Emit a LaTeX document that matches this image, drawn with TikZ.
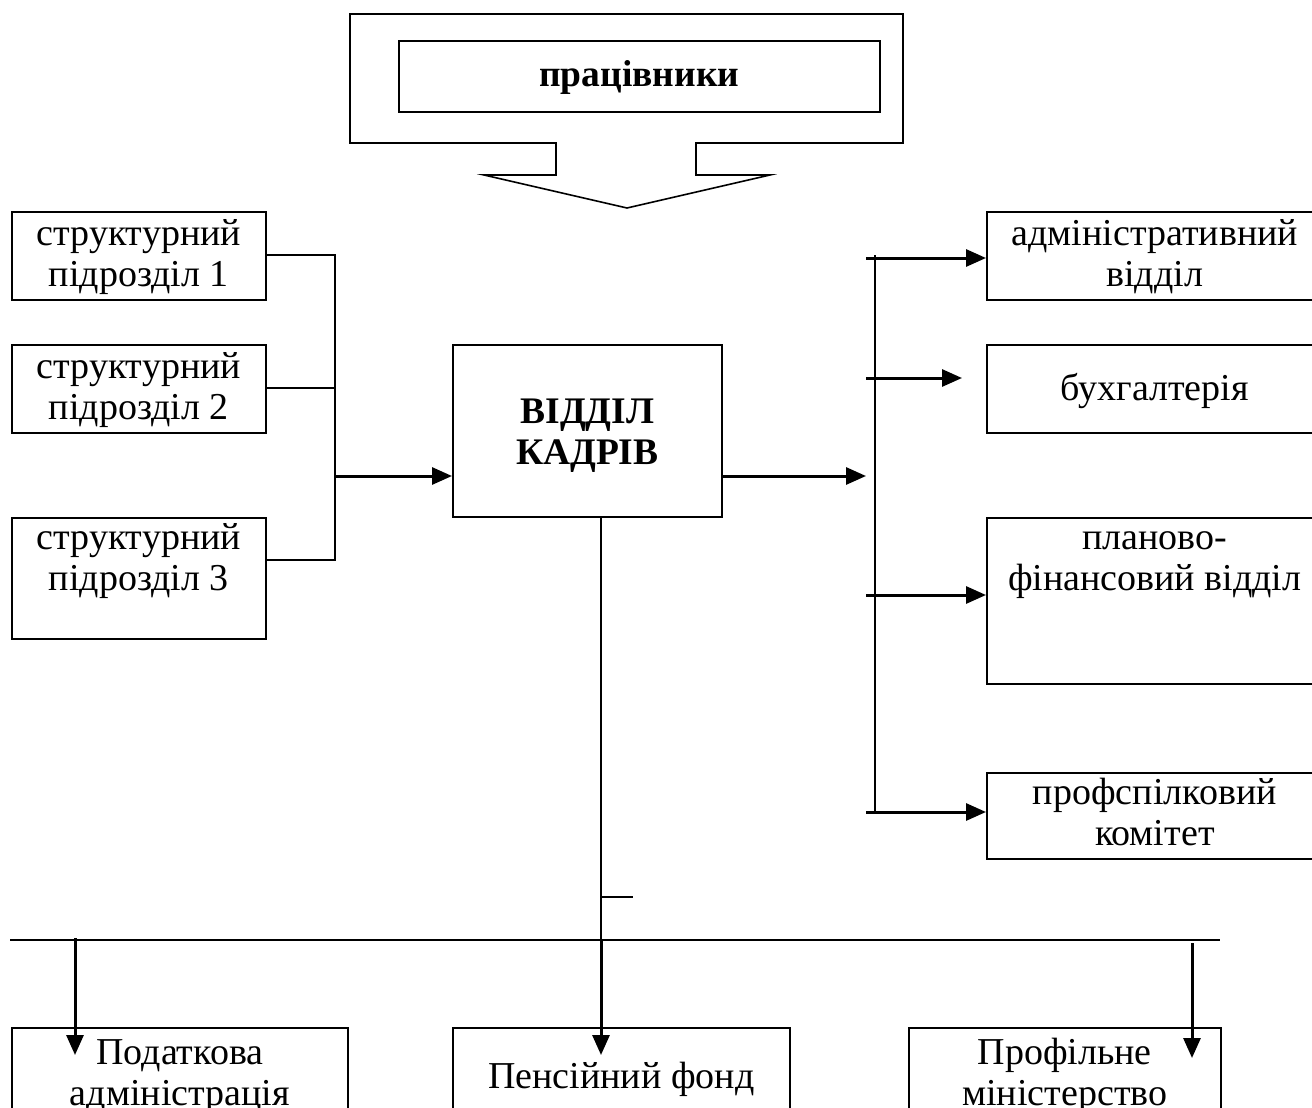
\documentclass[tikz,border=0pt]{standalone}
\usepackage{fontspec}
\setmainfont{Liberation Serif}
\usetikzlibrary{arrows.meta}
\begin{document}
\begin{tikzpicture}[x=1pt,y=-1pt,
                    box/.style = {draw,line width=1.6pt,anchor=north west,align=center,inner xsep=0pt,inner ysep=4pt,font=\fontsize{38}{41}\selectfont},
                    bold/.style = {font=\fontsize{37.5}{41}\selectfont\bfseries},
                    line/.style = {line width=1.6pt},
                    arrow/.style = {line width=3pt,-{Triangle[length=20pt,width=17pt]}}]
                    \useasboundingbox (0,0) rectangle (1312,1108);

                    % workers block arrow
                    \draw[line] (350,14) -- (903,14) -- (903,143) -- (696,143) -- (696,175) -- (770,175) -- (627,208)
                                -- (484,175) -- (556,175) -- (556,143) -- (350,143) -- cycle;
                    \node[box,bold,minimum width=481pt,text height=42pt,text depth=21pt] (workers) at (398,40) {працівники};

                    % left column
                    \node[box,minimum width=254pt,text height=71pt,text depth=9pt] (sub1) at (11,211) {структурний\\підрозділ 1};
                    \node[box,minimum width=254pt,text height=71pt,text depth=9pt] (sub2) at (11,344) {структурний\\підрозділ 2};
                    \node[box,minimum width=254pt,text height=69pt,text depth=44pt] (sub3) at (11,517) {структурний\\підрозділ 3};

                    % centre
                    \node[box,bold,minimum width=269pt,text height=116pt,text depth=48pt] (hr) at (452,344) {ВІДДІЛ\\КАДРІВ};

                    % right column
                    \node[box,minimum width=336pt,text height=71pt,text depth=9pt] (admin) at (986,211) {адміністративний\\відділ};
                    \node[box,minimum width=336pt,text height=52pt,text depth=28pt] (acc) at (986,344) {бухгалтерія};
                    \node[box,minimum width=336pt,text height=69pt,text depth=89pt] (plan) at (986,517) {планово-\\фінансовий відділ};
                    \node[box,minimum width=336pt,text height=69pt,text depth=9pt] (union) at (986,772) {профспілковий\\комітет};

                    % bottom row
                    \node[box,minimum width=336pt,text height=74pt,text depth=39pt] (tax) at (11,1027) {Податкова\\адміністрація};
                    \node[box,minimum width=337pt,text height=57pt,text depth=60pt] (pension) at (452,1027) {Пенсійний фонд};
                    \node[box,minimum width=312pt,text height=74pt,text depth=39pt] (ministry) at (908,1027) {Профільне\\міністерство};

                    % junction points
                    \coordinate (jl1) at (335,255);
                    \coordinate (jl2) at (335,388);
                    \coordinate (jl3) at (335,560);
                    \coordinate (jl)  at (335,476);
                    \coordinate (jr)  at (866,476);
                    \coordinate (bt)  at (875,255);
                    \coordinate (bb)  at (875,812);
                    \coordinate (ja)  at (866,258);
                    \coordinate (jb)  at (866,378);
                    \coordinate (jbe) at (962,378);
                    \coordinate (jp)  at (866,595);
                    \coordinate (ju)  at (866,812);
                    \coordinate (hs)  at (601,516);
                    \coordinate (ht)  at (601,897);
                    \coordinate (hb)  at (601,940);
                    \coordinate (ll)  at (10,940);
                    \coordinate (lr)  at (1220,940);
                    \coordinate (dt)  at (75,938);
                    \coordinate (dm)  at (1192,943);

                    % left bus
                    \draw[line] (sub1.east |- jl1) -- (jl1) -- (jl3) -- (sub3.east |- jl3);
                    \draw[line] (sub2.east |- jl2) -- (jl2);
                    \draw[arrow] (jl) -- (hr.west |- jl);

                    % right bus
                    \draw[arrow] (hr.east |- jr) -- (jr);
                    \draw[line] (bt) -- (bb);
                    \draw[arrow] (ja) -- (admin.west |- ja);
                    \draw[arrow] (jb) -- (jbe);
                    \draw[arrow] (jp) -- (plan.west |- jp);
                    \draw[arrow] (ju) -- (union.west |- ju);

                    % bottom bus
                    \draw[line] (hs) -- (hb);
                    \draw[line] (ht) -- ++(32,0);
                    \draw[line] (ll) -- (lr);
                    \draw[arrow] (hb) -- (hb |- 0,1055);
                    \draw[arrow] (dt) -- (dt |- 0,1055);
                    \draw[arrow] (dm) -- (dm |- 0,1058);

                \end{tikzpicture}
\end{document}
